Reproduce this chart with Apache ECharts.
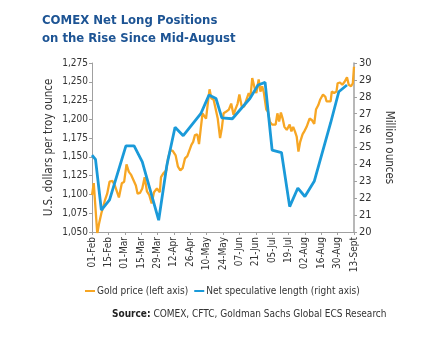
<!DOCTYPE html>
<html><head><meta charset="utf-8">
<script src="https://cdn.jsdelivr.net/npm/echarts@6/dist/echarts.min.js"></script>
<style>html,body{margin:0;padding:0;background:#fff}#c{width:438px;height:339px}</style>
</head><body><div id="c"></div>
<script>
const xTickLabels = ['01-Feb','15-Feb','01-Mar','15-Mar','29-Mar','12-Apr','26-Apr','10-May','24-May','07-Jun','21-Jun','05-Jul','19-Jul','02-Aug','16-Aug','30-Aug','13-Sept'];
// days since 01-Feb
const goldDays = [0,1.5,4.5,6,8,9.5,11,13,15,17.5,19.5,21,23,25.5,27.5,29.5,31.5,33.5,35.5,37.5,39,41,43,45,47,49,51,53,55.5,58,59,61,63.5,65,67,69,71.5,73.5,75.5,77.5,79.5,81.5,83,85,86.5,88,90,91.5,93,94.5,95.5,97.5,99,100.5,102,104,105.5,107.5,109.5,111,112.5,114.5,117,119,121,122.5,124.5,126,128,130,132,134,135.5,137,139,140.5,142.5,144,145.5,147,149,150.5,152,154,155.5,157,158.5,160,161.5,163,164.5,166.5,167.5,169,170.5,172,173.5,175,176.5,178,180,181.5,183.5,186,188,190,191.5,193.5,195,197.5,199.5,200.5,202,204,205,207,209,210,212,214,216,218,219.5,221.5,223,224];
const goldPrice = [1099,1115,1048,1061,1075,1083,1092,1101,1117,1118,1112,1110,1096,1115,1117,1140,1130,1126,1119,1112,1101,1102,1108,1123,1104,1099,1088,1103,1108,1103,1123,1128,1132,1148,1159,1158,1152,1137,1132,1135,1148,1151,1152,1166,1170,1179,1180,1167,1188,1208,1206,1201,1221,1240,1228,1226,1226,1201,1175,1188,1208,1210,1213,1221,1206,1213,1221,1233,1217,1217,1226,1235,1230,1255,1242,1235,1253,1237,1244,1235,1213,1210,1197,1193,1195,1193,1208,1197,1209,1201,1190,1186,1188,1193,1184,1190,1184,1177,1157,1170,1180,1184,1190,1201,1199,1194,1213,1219,1226,1233,1230,1224,1226,1224,1237,1235,1237,1248,1249,1246,1250,1256,1246,1244,1248,1270];
const specDays = [0,3,8,15,29,36,43,57,64,71,78,93,100,106,111,120,135,142,148,154,162,169,176,182,190,204,211,218];
const specValue = [24.55,24.3,21.3,21.9,25.1,25.1,24.15,20.7,23.95,26.2,25.7,27.0,28.1,27.9,26.75,26.7,27.9,28.7,28.85,24.85,24.7,21.5,22.6,22.1,23.0,26.45,28.3,28.7];

const FONT = "'Liberation Sans Narrow','DejaVu Sans Condensed','Roboto',sans-serif";
const TXT = '#333';
const AX = '#a0a0a0';
const GOLD = '#f7a623';
const BLUE = '#1a9ad9';

const chart = echarts.init(document.getElementById('c'), null, {renderer: 'canvas'});
const option = {
  animation: false,
  textStyle: {fontFamily: FONT},
  title: [{
    text: 'COMEX Net Long Positions\non the Rise Since Mid-August',
    left: 42, top: 12, padding: 0,
    textStyle: {fontFamily: FONT, fontSize: 13, fontWeight: 'bold', color: '#1d5494', lineHeight: 18}
  }, {
    text: '{b|Source:} COMEX, CFTC, Goldman Sachs Global ECS Research',
    left: 112, top: 309, padding: 0,
    textStyle: {
      fontFamily: FONT, fontSize: 10, fontWeight: 'normal', color: TXT,
      rich: {b: {fontFamily: FONT, fontSize: 10, fontWeight: 'bold', color: '#222'}}
    }
  }],
  legend: {
    left: 85, top: 286, padding: 0,
    icon: 'rect', itemWidth: 10, itemHeight: 2, itemGap: 6,
    textStyle: {fontFamily: FONT, fontSize: 10, color: TXT, padding: [0, 0, 0, -3]},
    data: ['Gold price (left axis)', 'Net speculative length (right axis)']
  },
  grid: {left: 92, right: 84, top: 63, bottom: 107, containLabel: false},
  xAxis: {
    type: 'value', min: 0, max: 224, interval: 14,
    axisLine: {show: true, lineStyle: {color: AX, width: 1}},
    axisTick: {show: true, length: 3, lineStyle: {color: AX}},
    splitLine: {show: false},
    axisLabel: {
      rotate: 90, fontSize: 10, color: TXT, margin: 5, fontFamily: FONT,
      formatter: v => xTickLabels[Math.round(v / 14)] || ''
    }
  },
  yAxis: [{
    type: 'value', min: 1050, max: 1275, interval: 25,
    position: 'left',
    name: 'U.S. dollars per troy ounce', nameLocation: 'middle', nameGap: 37,
    nameMoveOverlap: false,
    nameTextStyle: {fontFamily: FONT, fontSize: 11.5, color: TXT},
    axisLine: {show: true, lineStyle: {color: AX, width: 1}},
    axisTick: {show: true, length: 3, lineStyle: {color: AX}},
    splitLine: {show: false},
    axisLabel: {fontSize: 10, color: TXT, margin: 4, fontFamily: FONT,
      formatter: v => v.toLocaleString('en-US')}
  }, {
    type: 'value', min: 20, max: 30, interval: 1,
    position: 'right',
    name: 'Million ounces', nameLocation: 'middle', nameGap: 22, nameRotate: -90,
    nameTextStyle: {fontFamily: FONT, fontSize: 11.5, color: TXT},
    axisLine: {show: true, lineStyle: {color: AX, width: 1.5}},
    axisTick: {show: true, length: 3, lineStyle: {color: AX}},
    splitLine: {show: false},
    axisLabel: {fontSize: 11, color: TXT, margin: 5, fontFamily: FONT}
  }],
  series: [{
    name: 'Gold price (left axis)', type: 'line', yAxisIndex: 0,
    data: goldDays.map((d, i) => [d, goldPrice[i]]),
    showSymbol: false, symbol: 'none',
    lineStyle: {color: GOLD, width: 2.3}, itemStyle: {color: GOLD}
  }, {
    name: 'Net speculative length (right axis)', type: 'line', yAxisIndex: 1,
    data: specDays.map((d, i) => [d, specValue[i]]),
    showSymbol: false, symbol: 'none',
    lineStyle: {color: BLUE, width: 2.8}, itemStyle: {color: BLUE}
  }]
};
chart.setOption(option);
</script></body></html>
